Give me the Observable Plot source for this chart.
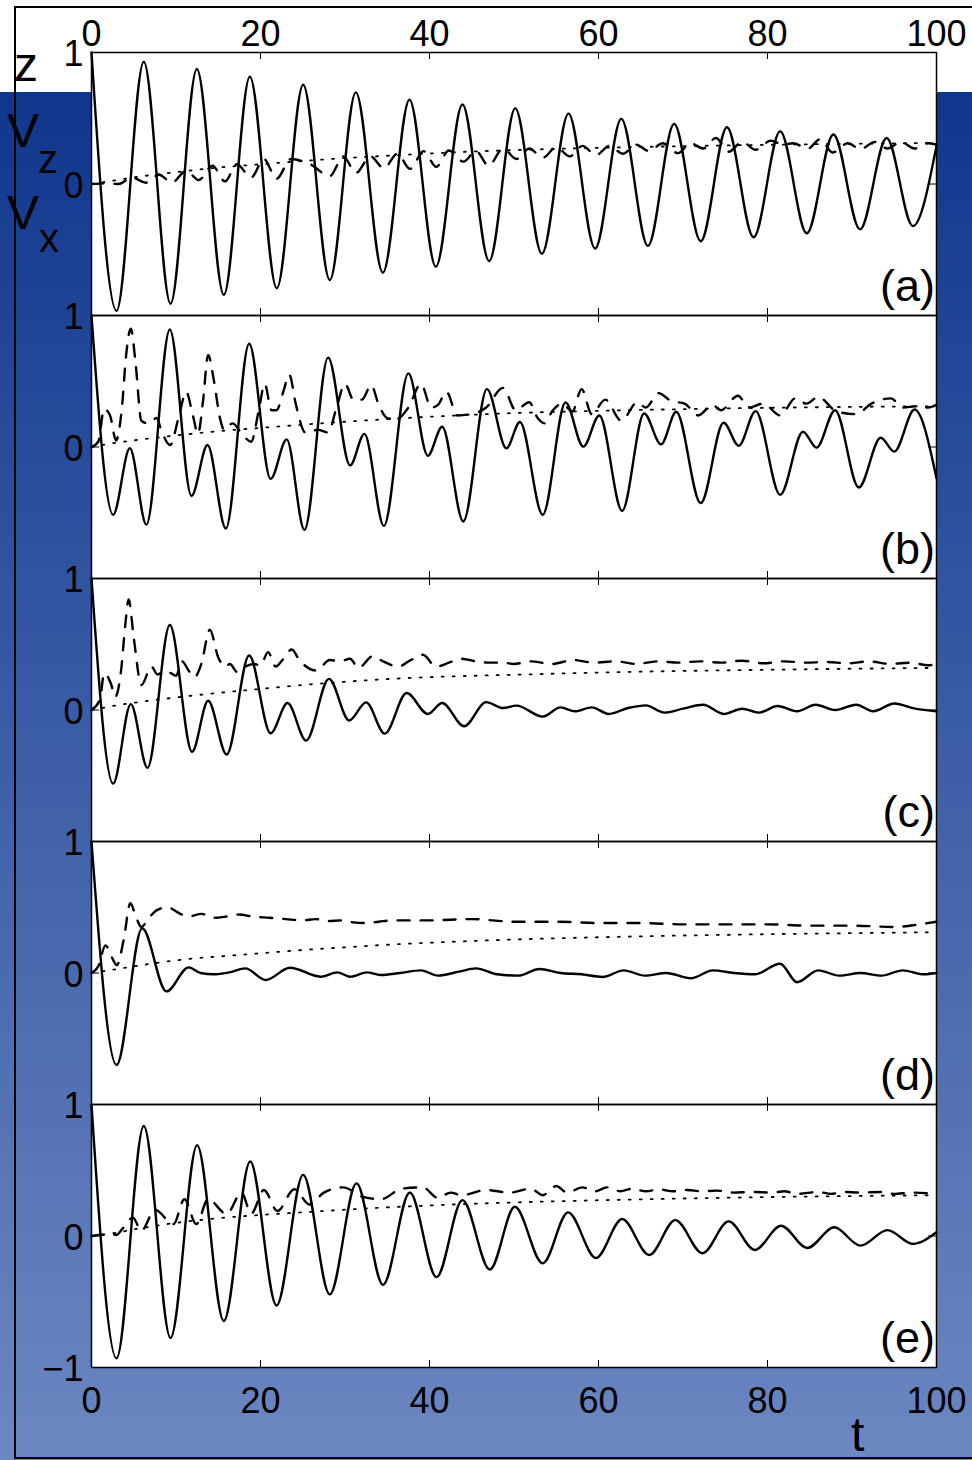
<!DOCTYPE html>
<html>
<head>
<meta charset="utf-8">
<script src="https://cdn.jsdelivr.net/npm/d3@7"></script>
<script src="https://cdn.jsdelivr.net/npm/@observablehq/plot@0.6"></script>
<style>
  html, body { margin: 0; padding: 0; }
  body {
    width: 972px; height: 1460px; overflow: hidden; position: relative;
    background: linear-gradient(to bottom, #ffffff 0px, #ffffff 92px, #10378e 92px, #6c87c1 1460px);
    font-family: "Liberation Sans", Arial, Helvetica, sans-serif;
  }
  #box { position: absolute; left: 14px; top: 6px; width: 990px; height: 1453px; border: 2px solid #000; box-sizing: border-box; }
  #chart { position: absolute; left: 0; top: 0; }
  .lab { position: absolute; line-height: 1; color: #000; white-space: nowrap; }
</style>
</head>
<body>
<div id="box"></div>
<div id="chart"></div>
<div class="lab" style="left:14px;top:41px;font-size:48px">z</div>
<div class="lab" style="left:7px;top:107px;font-size:48px">V</div>
<div class="lab" style="left:38px;top:139px;font-size:40px">z</div>
<div class="lab" style="left:7px;top:189px;font-size:48px">V</div>
<div class="lab" style="left:39px;top:218px;font-size:40px">x</div>
<div class="lab" style="left:851px;top:1411px;font-size:48px">t</div>
<script>
// ---- categories / ticks ----
const panels = ["a", "b", "c", "d", "e"];
const xTickValues = [0, 20, 40, 60, 80, 100];
const xInnerTicks = [20, 40, 60, 80];
const yTickValues = [1, 0];
const yBottomTick = -1;

// ---- series: [t, value] ----  (solid = z, dashed = Vz, dotted = Vx)
const zA = [[0,1],[2.96,-0.965],[6.19,0.93],[9.35,-0.91],[12.47,0.874],[15.66,-0.843],[18.74,0.816],[21.93,-0.793],[25.05,0.755],[28.2,-0.73],[31.28,0.697],[34.48,-0.674],[37.63,0.641],[40.75,-0.629],[43.9,0.604],[47.06,-0.586],[50.15,0.575],[53.3,-0.53],[56.45,0.535],[59.6,-0.49],[62.7,0.495],[65.85,-0.47],[68.95,0.457],[72.1,-0.435],[75.2,0.432],[78.35,-0.405],[81.5,0.40],[84.65,-0.375],[87.8,0.376],[90.95,-0.345],[94.1,0.35],[97.2,-0.32],[100,0.29]];
const vzA = [[0,0],[1.6,0.005],[3.2,0.0],[4.8,0.05],[6.4,0.01],[8.0,0.07],[9.5,0.01],[11.2,0.1],[12.7,0.03],[14.3,0.14],[15.8,0.02],[17.2,0.15],[18.9,0.05],[20.4,0.19],[21.9,0.04],[23.6,0.19],[25.9,0.15],[28.2,0.06],[29.8,0.21],[31.3,0.085],[33.0,0.21],[34.6,0.12],[36.2,0.23],[37.7,0.115],[39.3,0.25],[40.8,0.13],[42.3,0.255],[44.0,0.17],[45.5,0.25],[47.0,0.14],[48.7,0.27],[50.3,0.19],[51.8,0.27],[53.4,0.2],[55.0,0.28],[56.6,0.21],[58.1,0.29],[59.7,0.22],[61.3,0.29],[62.9,0.23],[64.4,0.3],[66.0,0.25],[67.6,0.31],[69.4,0.235],[70.9,0.31],[72.4,0.27],[73.9,0.35],[75.4,0.245],[77.0,0.32],[78.6,0.26],[80.4,0.33],[81.8,0.3],[83.0,0.31],[84.8,0.27],[86.2,0.34],[87.7,0.24],[89.5,0.31],[91.0,0.265],[92.7,0.32],[94.2,0.27],[95.8,0.32],[97.4,0.27],[99.0,0.31],[100,0.3]];
const vxA = [[0,0],[2.5,0.025],[5,0.05],[10,0.09],[15,0.125],[20,0.15],[25,0.175],[30,0.197],[35,0.215],[40,0.232],[45,0.247],[50,0.258],[60,0.275],[70,0.288],[80,0.298],[90,0.306],[100,0.312]];

const zB = [[0,1],[2.56,-0.515],[4.54,-0.01],[6.5,-0.59],[9.27,0.894],[11.83,-0.371],[13.73,0.015],[15.9,-0.62],[18.66,0.785],[21.2,-0.242],[23.1,0.058],[25.2,-0.63],[28.0,0.68],[30.6,-0.14],[32.3,0.10],[34.6,-0.60],[37.5,0.56],[39.8,-0.066],[41.5,0.154],[44.0,-0.566],[46.8,0.44],[49.1,-0.01],[50.7,0.19],[53.4,-0.515],[56.1,0.338],[58.2,0.003],[60.1,0.24],[62.8,-0.485],[65.4,0.255],[67.4,0.02],[69.2,0.268],[72.1,-0.427],[74.8,0.184],[76.6,0.01],[78.6,0.273],[81.5,-0.364],[84.2,0.116],[85.8,-0.005],[88.0,0.28],[90.8,-0.308],[93.4,0.07],[95.0,-0.035],[97.4,0.285],[100,-0.237]];
const vzB = [[0,0],[0.8,0.04],[1.5,0.29],[2.2,0.24],[2.9,0.05],[3.6,0.3],[4.1,0.7],[4.65,0.9],[5.2,0.65],[5.9,0.2],[6.7,0.18],[7.7,0.22],[8.3,0.12],[9.3,0.015],[10.4,0.25],[11.2,0.42],[12.0,0.24],[12.6,0.1],[13.2,0.35],[13.8,0.7],[14.5,0.5],[15.2,0.22],[15.7,0.13],[16.7,0.18],[17.8,0.1],[18.9,0.04],[19.8,0.28],[20.5,0.48],[21.3,0.28],[21.9,0.28],[22.7,0.42],[23.4,0.55],[24.2,0.32],[25.3,0.11],[26.8,0.13],[28.0,0.11],[29.0,0.3],[30.0,0.48],[31.0,0.36],[32.0,0.36],[33.1,0.47],[34.0,0.32],[35.0,0.22],[36.0,0.21],[37.5,0.3],[39.0,0.48],[40.2,0.3],[41.0,0.32],[42.0,0.42],[43.3,0.24],[45.0,0.25],[46.7,0.3],[48.7,0.45],[50.2,0.28],[51.8,0.34],[52.8,0.22],[53.6,0.18],[54.6,0.28],[55.7,0.33],[56.9,0.27],[58.0,0.44],[59.2,0.25],[60.8,0.36],[62.7,0.2],[64.6,0.34],[65.6,0.3],[67.1,0.41],[68.6,0.35],[70.2,0.33],[71.8,0.24],[73.5,0.32],[74.5,0.28],[76.5,0.39],[77.8,0.3],[79.5,0.33],[81.5,0.24],[83.3,0.37],[84.6,0.33],[86.0,0.38],[88.2,0.27],[90.5,0.25],[92.3,0.33],[94.6,0.37],[96,0.3],[97.6,0.31],[99,0.3],[100,0.32]];
const vxB = [[0,0],[2.5,0.028],[5,0.05],[10,0.088],[15,0.12],[20,0.145],[25,0.17],[30,0.192],[35,0.212],[40,0.23],[45,0.245],[50,0.258],[60,0.275],[70,0.288],[80,0.298],[90,0.305],[100,0.31]];

const zC = [[0,1],[2.56,-0.56],[4.65,0.045],[6.63,-0.44],[9.27,0.646],[11.9,-0.318],[13.8,0.07],[16.0,-0.338],[18.66,0.414],[21.2,-0.177],[23.2,0.053],[25.4,-0.232],[28.1,0.237],[30.5,-0.08],[32.5,0.058],[34.7,-0.18],[37.3,0.129],[39.8,-0.03],[41.5,0.053],[44.1,-0.124],[46.7,0.06],[48.7,0.015],[50.3,0.033],[53.4,-0.05],[55.5,0.02],[57.2,-0.01],[59.2,0.02],[61.2,-0.03],[63.5,0.015],[65.6,0.035],[67.8,-0.02],[70.0,0.01],[72.4,0.04],[74.8,-0.03],[77.0,0.01],[79.0,-0.02],[81.2,0.03],[83.5,-0.01],[85.7,0.04],[88.0,0.0],[90.5,0.04],[92.5,-0.01],[95.0,0.05],[97.5,0.01],[100,-0.01]];
const vzC = [[0,0],[1.0,0.08],[1.5,0.28],[2.3,0.2],[2.8,0.1],[3.5,0.3],[4.0,0.65],[4.4,0.84],[5.0,0.55],[5.9,0.19],[7.1,0.33],[7.8,0.27],[8.7,0.3],[9.4,0.28],[10.0,0.26],[10.7,0.37],[11.6,0.29],[12.2,0.25],[13.0,0.35],[14.0,0.61],[15.0,0.4],[15.8,0.33],[16.4,0.35],[17.2,0.29],[18.2,0.33],[19.2,0.35],[20.0,0.34],[20.9,0.44],[21.8,0.33],[22.6,0.38],[23.7,0.46],[24.6,0.38],[26.6,0.3],[28.2,0.38],[29.4,0.37],[30.6,0.39],[31.6,0.32],[33.3,0.41],[34.5,0.37],[36.3,0.33],[37.8,0.38],[39.2,0.42],[40.8,0.33],[42.3,0.36],[43.8,0.39],[45.5,0.37],[47.0,0.36],[48.8,0.36],[50.0,0.35],[52,0.37],[54.5,0.35],[57,0.38],[59.5,0.36],[62,0.37],[64.5,0.35],[67,0.37],[69.5,0.36],[72,0.37],[74.5,0.36],[77,0.375],[79.5,0.355],[82,0.37],[84.5,0.36],[87,0.365],[89.5,0.355],[92,0.37],[94.5,0.35],[97,0.36],[99,0.34],[100,0.35]];
const vxC = [[0,0],[2.5,0.03],[5,0.055],[10,0.095],[15,0.13],[20,0.16],[25,0.19],[30,0.215],[35,0.235],[40,0.25],[45,0.26],[50,0.268],[60,0.285],[70,0.297],[80,0.306],[90,0.314],[100,0.32]];

const zD = [[0,1],[2.96,-0.70],[6.0,0.34],[8.87,-0.14],[11.5,0.043],[12.9,0.0],[14.5,-0.01],[16.3,0.005],[18.2,0.035],[20.6,-0.053],[23.5,0.04],[27.1,-0.028],[29.1,0.005],[30.6,-0.028],[32.6,0.005],[34.2,-0.015],[36.5,0.0],[39.0,0.02],[41.0,-0.02],[43.5,0.01],[45.5,0.035],[48.0,-0.01],[50.5,-0.02],[53.0,0.03],[55.5,0.0],[58.0,-0.01],[60.5,-0.03],[63.0,0.02],[65.5,-0.02],[68.0,0.0],[71.0,-0.04],[73.5,0.02],[76.0,0.0],[78.5,-0.01],[81.5,0.07],[83.5,-0.07],[86.0,0.02],[88.5,-0.02],[91.0,0.0],[93.5,-0.02],[96.0,0.02],[98.5,-0.01],[100,0.0]];
const vzD = [[0,0],[0.8,0.05],[1.66,0.21],[2.4,0.12],[3.0,0.06],[3.8,0.25],[4.6,0.53],[5.3,0.42],[5.9,0.35],[6.8,0.42],[7.8,0.48],[9.0,0.5],[10.5,0.45],[11.5,0.43],[13.0,0.45],[14.5,0.42],[16.0,0.43],[17.5,0.445],[19.0,0.43],[21.0,0.42],[23.0,0.41],[25.0,0.4],[26.5,0.41],[28.0,0.395],[29.5,0.4],[31.0,0.385],[32.5,0.38],[34.0,0.39],[35.5,0.40],[40,0.4],[45,0.41],[50,0.39],[55,0.39],[60,0.38],[65,0.38],[70,0.37],[75,0.37],[80,0.37],[85,0.36],[90,0.36],[95,0.35],[98,0.37],[100,0.39]];
const vxD = [[0,0],[2.5,0.025],[5,0.05],[8,0.08],[12,0.11],[16,0.13],[20,0.15],[25,0.175],[30,0.195],[35,0.215],[40,0.23],[50,0.255],[60,0.272],[70,0.285],[80,0.295],[90,0.303],[100,0.31]];

const zE = [[0,1],[2.96,-0.93],[6.19,0.836],[9.35,-0.775],[12.5,0.69],[15.66,-0.646],[18.78,0.566],[21.9,-0.528],[25.05,0.465],[28.2,-0.444],[31.36,0.40],[34.5,-0.371],[37.67,0.331],[40.83,-0.313],[43.9,0.273],[47.14,-0.255],[50.1,0.222],[53.4,-0.207],[56.4,0.18],[59.7,-0.167],[62.8,0.129],[66.0,-0.144],[69.1,0.121],[72.3,-0.131],[75.4,0.111],[78.5,-0.106],[81.6,0.078],[84.7,-0.091],[87.9,0.066],[91.0,-0.073],[94.2,0.045],[97.2,-0.06],[100,0.028]];
const vzE = [[0,0],[1.5,0.01],[3.0,0.01],[3.6,0.05],[4.9,0.14],[5.9,0.04],[7.5,0.2],[9.7,0.09],[11.0,0.28],[12.4,0.09],[13.8,0.28],[16.0,0.167],[17.75,0.33],[18.9,0.17],[20.4,0.35],[22.0,0.19],[24.0,0.356],[25.8,0.24],[27.5,0.33],[29.8,0.37],[32.0,0.3],[34.3,0.28],[36.7,0.36],[39.2,0.37],[41.0,0.29],[42.5,0.33],[43.8,0.31],[46.7,0.35],[49.5,0.33],[52,0.36],[53.4,0.31],[55,0.38],[56.3,0.33],[58.1,0.37],[59.6,0.34],[61,0.37],[62.6,0.34],[64,0.36],[65.6,0.34],[67.2,0.355],[68.8,0.34],[70.5,0.35],[72.2,0.34],[74,0.345],[76,0.33],[78,0.335],[80.5,0.33],[82,0.34],[83.5,0.32],[86,0.335],[87.5,0.32],[89,0.335],[91,0.33],[93.5,0.335],[95,0.32],[97,0.33],[99,0.325],[100,0.32]];
const vxE = [[0,0],[2.5,0.02],[5,0.05],[10,0.1],[15,0.135],[20,0.16],[25,0.18],[30,0.2],[35,0.218],[40,0.232],[45,0.245],[50,0.255],[60,0.272],[70,0.285],[80,0.296],[90,0.304],[100,0.31]];

// ---- build tidy tables ----
const seriesByPanel = {
  a: {z: zA, vz: vzA, vx: vxA},
  b: {z: zB, vz: vzB, vx: vxB},
  c: {z: zC, vz: vzC, vx: vxC},
  d: {z: zD, vz: vzD, vx: vxD},
  e: {z: zE, vz: vzE, vx: vxE}
};
const rows = [];
for (const p of panels) for (const s of ["z", "vz", "vx"]) for (const [t, v] of seriesByPanel[p][s]) rows.push({panel: p, series: s, t, v});

const innerTickRows = panels.flatMap(p => xInnerTicks.map(t => ({panel: p, t})));
const yTickRows = panels.flatMap(p => yTickValues.map(v => ({panel: p, v, label: String(v)})))
  .concat([{panel: panels[panels.length - 1], v: yBottomTick, label: "\u2212" + Math.abs(yBottomTick)}]);
const topLabelRows = xTickValues.map(t => ({panel: panels[0], t}));
const bottomLabelRows = xTickValues.map(t => ({panel: panels[panels.length - 1], t}));

const lineOpts = {x: "t", y: "v", fy: "panel", curve: "monotone-x", stroke: "#000", strokeLinejoin: "round"};

const chart = Plot.plot({
  width: 972,
  height: 1460,
  marginLeft: 91,
  marginRight: 36,
  marginTop: 50,
  marginBottom: 92,
  style: {background: "transparent", overflow: "visible", fontFamily: "'Liberation Sans', Arial, Helvetica, sans-serif", color: "#000"},
  x: {domain: [0, 100], axis: null},
  y: {domain: [-1, 1], axis: null},
  fy: {domain: panels, axis: null, padding: 0},
  marks: [
    Plot.frame({fill: "white", stroke: null}),
    Plot.line(rows.filter(d => d.series === "vx"), {...lineOpts, strokeWidth: 1.8, strokeDasharray: "2,9"}),
    Plot.line(rows.filter(d => d.series === "vz"), {...lineOpts, strokeWidth: 2.4, strokeDasharray: "12,11"}),
    Plot.line(rows.filter(d => d.series === "z"), {...lineOpts, strokeWidth: 2.4}),
    Plot.ruleX(innerTickRows, {x: "t", y1: 1, y2: 0.947, fy: "panel", stroke: "#000", strokeWidth: 1}),
    Plot.ruleX(innerTickRows, {x: "t", y1: -1, y2: -0.947, fy: "panel", stroke: "#000", strokeWidth: 1}),
    Plot.ruleY(panels, {y: 0, x1: 0, x2: 0.95, fy: d => d, stroke: "#000", strokeWidth: 1}),
    Plot.ruleY(panels, {y: 0, x1: 100, x2: 99.05, fy: d => d, stroke: "#000", strokeWidth: 1}),
    Plot.frame({stroke: "#000", strokeWidth: 1.5}),
    Plot.text(yTickRows, {fy: "panel", y: "v", text: "label", frameAnchor: "left", lineAnchor: "middle", textAnchor: "end", dx: -8, dy: 2, fontSize: 36, fill: "#000"}),
    Plot.text(topLabelRows, {fy: "panel", x: "t", text: d => String(d.t), frameAnchor: "top", lineAnchor: "middle", dy: -18.5, fontSize: 36, fill: "#000"}),
    Plot.text(bottomLabelRows, {fy: "panel", x: "t", text: d => String(d.t), frameAnchor: "bottom", lineAnchor: "middle", dy: 33.5, fontSize: 36, fill: "#000"}),
    Plot.text(panels, {fy: d => d, text: d => `(${d})`, frameAnchor: "bottom-right", lineAnchor: "middle", textAnchor: "end", dx: -1.5, dy: -29, fontSize: 45, fill: "#000"})
  ]
});
document.getElementById("chart").appendChild(chart);
</script>
</body>
</html>
